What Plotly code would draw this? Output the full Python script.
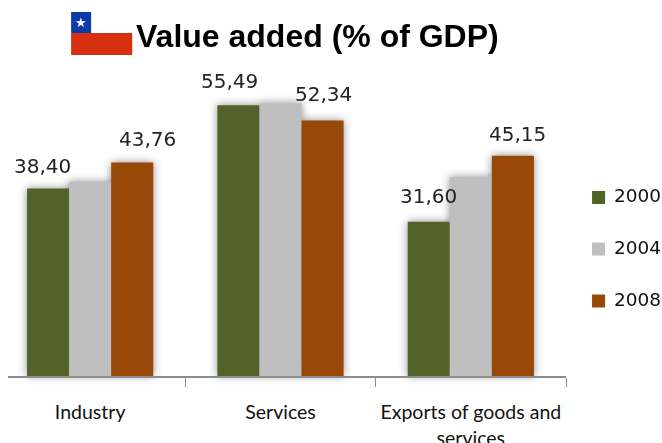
import plotly.graph_objects as go

categories = ["Industry", "Services", "Exports of goods and<br>services"]
years = ["2000", "2004", "2008"]
values_2000 = [38.40, 55.49, 31.60]
values_2004 = [39.8, 55.9, 40.8]
values_2008 = [43.76, 52.34, 45.15]
colors = ["#52632A", "#BFBFBF", "#984807"]

fig = go.Figure()
for year, vals, color in zip(years, [values_2000, values_2004, values_2008], colors):
    fig.add_bar(name=year, x=categories, y=vals, marker=dict(color=color, line_width=0),
                cliponaxis=False, showlegend=False)

# Value labels sit beside the bar tops; the 2004 series is left unlabelled.
label_font = dict(family="DejaVu Sans", size=20, color="#222222")
label_offsets = [
    (values_2000, [-48, -51, -42], [23, 24, 26]),
    (values_2008, [57, 43, 47], [23, 27, 22]),
]
for vals, xoffs, yoffs in label_offsets:
    for i, v in enumerate(vals):
        fig.add_annotation(x=categories[i], y=v, xref="x", yref="y",
                           text=f"{v:.2f}".replace(".", ","), showarrow=False,
                           xshift=xoffs[i], yshift=yoffs[i], font=label_font)


def px(x):
    return (x - 8) / 557


def py(y):
    return (376 - y) / 316


# Chilean flag beside the title
for x0, y0, x1, y1, c in [
    (71, 33, 132, 55, "#D72F10"),
    (71, 12, 91, 33, "#0B3BA8"),
]:
    fig.add_shape(type="rect", xref="paper", yref="paper", layer="above",
                  x0=px(x0), x1=px(x1), y0=py(y0), y1=py(y1), fillcolor=c, line_width=0)
fig.add_annotation(xref="paper", yref="paper", x=px(81), y=py(22.5), xanchor="center",
                   yanchor="middle", text="★", showarrow=False,
                   font=dict(size=13, color="white", family="DejaVu Sans"))
fig.add_annotation(xref="paper", yref="paper", x=px(134), y=py(36), xanchor="left",
                   yanchor="middle", text="<b>Value added (% of GDP)</b>", showarrow=False,
                   font=dict(size=32, color="#000000", family="Liberation Sans"))

# Key on the right: tight swatch-to-text spacing, one row per year
for year, color, yc in zip(years, colors, [197.5, 249, 301]):
    fig.add_shape(type="rect", xref="paper", yref="paper",
                  x0=px(591), x1=px(604), y0=py(yc - 6.5), y1=py(yc + 6.5),
                  fillcolor=color, line_width=0)
    fig.add_annotation(xref="paper", yref="paper", x=px(612), y=py(yc - 2), xanchor="left",
                       yanchor="middle", xshift=-1, text=year, showarrow=False,
                       font=dict(family="DejaVu Sans", size=18.5, color="#111111"))

fig.update_layout(
    width=662, height=443, autosize=False,
    margin=dict(l=8, r=96, t=60, b=67, autoexpand=False),
    paper_bgcolor="white", plot_bgcolor="white",
    barmode="group", bargap=0.337, bargroupgap=0,
    showlegend=False,
    xaxis=dict(type="category", range=[-0.4316, 2.5],
               tickson="boundaries", ticks="outside", ticklen=9, tickcolor="#8C8C8C",
               showline=True, linecolor="#8C8C8C", linewidth=1.5, showgrid=False, automargin=False,
               tickfont=dict(family="Lato", size=19.5, color="#111111"), ticklabelstandoff=18),
    yaxis=dict(range=[0, 64.75], visible=False, showgrid=False),
)

# Soft shadow around the block of bars
shadow_js = """
document.querySelectorAll('.barlayer').forEach(function (g) {
  g.style.filter = 'drop-shadow(0 0 4px rgba(0,0,0,0.45))';
});
"""
fig.write_html("out.html", post_script=shadow_js)
